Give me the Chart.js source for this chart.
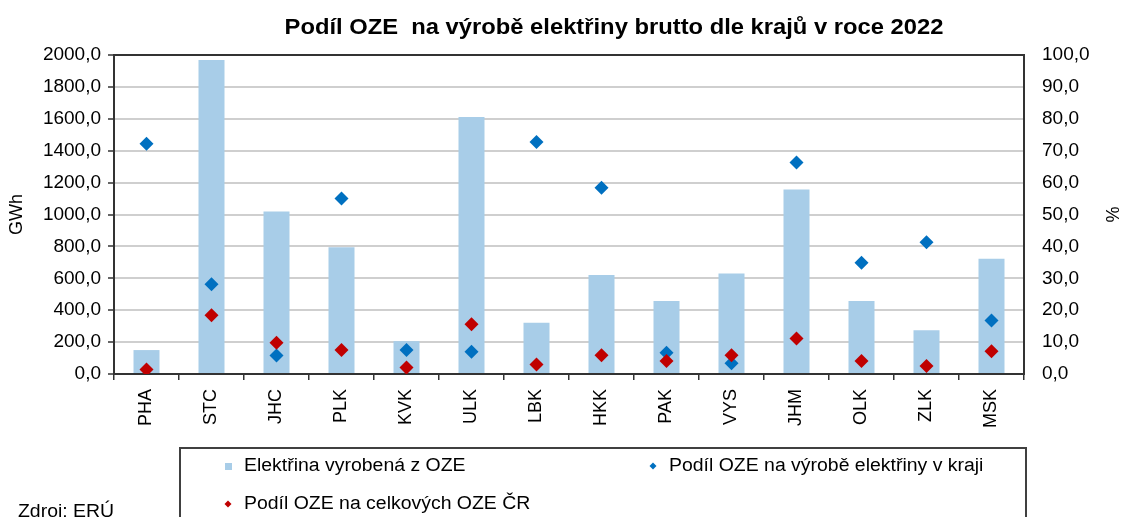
<!DOCTYPE html>
<html>
<head>
<meta charset="utf-8">
<script src="https://cdn.jsdelivr.net/npm/chart.js@4"></script>
<style>
  html,body{margin:0;padding:0;background:#fff;}
  #wrap{width:1122px;height:517px;}
</style>
</head>
<body>
<div id="wrap"><canvas id="c" width="1122" height="517"></canvas></div>
<script>
const TITLE="Podíl OZE  na výrobě elektřiny brutto dle krajů v roce 2022";
const SOURCE="Zdroj: ERÚ";
const regions=["PHA","STC","JHC","PLK","KVK","ULK","LBK","HKK","PAK","VYS","JHM","OLK","ZLK","MSK"];
// GWh
const gwh=[150,1968,1019,795,206,1612,322,620,457,630,1156,457,275,722];
// % podíl OZE na výrobě elektřiny v kraji
const shareRegion=[72.2,28.1,5.8,55.0,7.5,7.0,72.7,58.4,6.7,3.4,66.3,34.9,41.3,16.8];
// % podíl na celkových OZE ČR
const shareCR=[1.4,18.4,9.8,7.5,2.0,15.6,3.0,5.9,4.1,5.9,11.1,4.1,2.5,7.1];

const BAR="#a8cde8",BLUE="#0070c0",RED="#c00000",AX="#333333",GRID="#cfcfcf";
const FONT="Liberation Sans, Arial, sans-serif";
const fmt1=v=>Number(v).toFixed(1).replace(".",",");

// text slightly stretched horizontally like the original
function wideText(ctx,txt,x,y,font,align){
  const k=1.08;
  ctx.save();
  ctx.font=font;
  ctx.fillStyle="#000";
  ctx.textBaseline="middle";
  ctx.textAlign=align||"left";
  ctx.translate(x,y);
  ctx.scale(k,1);
  ctx.fillText(txt,0,0);
  ctx.restore();
}
function diamond(ctx,x,y,r,col){
  ctx.beginPath();
  ctx.moveTo(x,y-r);ctx.lineTo(x+r,y);ctx.lineTo(x,y+r);ctx.lineTo(x-r,y);
  ctx.closePath();
  ctx.fillStyle=col;ctx.fill();
}

const decor={
  id:"decor",
  beforeDatasetsDraw(chart){
    const {ctx,chartArea:a}=chart;
    ctx.save();
    ctx.strokeStyle=AX;ctx.lineWidth=2;
    ctx.beginPath();ctx.moveTo(a.left,a.top);ctx.lineTo(a.right,a.top);ctx.stroke();
    ctx.restore();
  },
  afterDraw(chart){
    const ctx=chart.ctx;
    const ds=chart.data.datasets;
    wideText(ctx,TITLE,614,28,"bold 22px "+FONT,"center");
    // legend box
    ctx.save();
    ctx.strokeStyle="#404040";ctx.lineWidth=2;
    ctx.strokeRect(180,448,846,90);
    ctx.restore();
    const lf="18px "+FONT;
    ctx.fillStyle=BAR;ctx.fillRect(225,463,7,7);
    wideText(ctx,ds[2].label,244,466,lf);
    diamond(ctx,653,466,3.5,BLUE);
    wideText(ctx,ds[0].label,669,466,lf);
    diamond(ctx,228,504,3.5,RED);
    wideText(ctx,ds[1].label,244,504,lf);
    wideText(ctx,SOURCE,18,512,lf);
  }
};

new Chart(document.getElementById("c"),{
  data:{
    labels:regions,
    datasets:[
      {type:"line",label:"Podíl OZE na výrobě elektřiny v kraji",data:shareRegion,yAxisID:"y1",
        showLine:false,pointStyle:"rectRot",pointRadius:7,pointHoverRadius:7,
        backgroundColor:BLUE,borderColor:BLUE,borderWidth:0,order:2},
      {type:"line",label:"Podíl OZE na celkových OZE ČR",data:shareCR,yAxisID:"y1",
        showLine:false,pointStyle:"rectRot",pointRadius:7,pointHoverRadius:7,
        backgroundColor:RED,borderColor:RED,borderWidth:0,order:1},
      {type:"bar",label:"Elektřina vyrobená z OZE",data:gwh,yAxisID:"y",
        backgroundColor:BAR,barPercentage:0.4,categoryPercentage:1,order:3}
    ]
  },
  options:{
    responsive:false,
    animation:false,
    devicePixelRatio:1,
    layout:{padding:{top:55,left:0,right:0,bottom:0}},
    plugins:{legend:{display:false},title:{display:false},tooltip:{enabled:false}},
    scales:{
      x:{
        type:"category",
        offset:true,
        afterFit:s=>{s.height=143;},
        grid:{offset:true,drawOnChartArea:false,tickLength:6,color:AX,lineWidth:1.5},
        border:{color:AX,width:2},
        ticks:{autoSkip:false,minRotation:90,maxRotation:90,padding:9,color:"#000",font:{family:FONT,size:18}}
      },
      y:{
        position:"left",min:0,max:2000,
        afterFit:s=>{s.width=114;},
        grid:{color:GRID,lineWidth:2,tickLength:6,tickColor:AX,tickWidth:1.5},
        border:{color:AX,width:2},
        ticks:{stepSize:200,padding:7,color:"#000",font:{family:FONT,size:19},callback:v=>fmt1(v)},
        title:{display:true,text:"GWh",color:"#000",font:{family:FONT,size:18},padding:{top:6,bottom:0}}
      },
      y1:{
        position:"right",min:0,max:100,
        afterFit:s=>{s.width=98;},
        grid:{drawOnChartArea:false,drawTicks:false},
        border:{color:AX,width:2},
        ticks:{stepSize:10,padding:18,color:"#000",font:{family:FONT,size:19},callback:v=>fmt1(v)},
        title:{display:true,text:"%",color:"#000",font:{family:FONT,size:18},padding:{top:0,bottom:0}}
      }
    }
  },
  plugins:[decor]
});
</script>
</body>
</html>
